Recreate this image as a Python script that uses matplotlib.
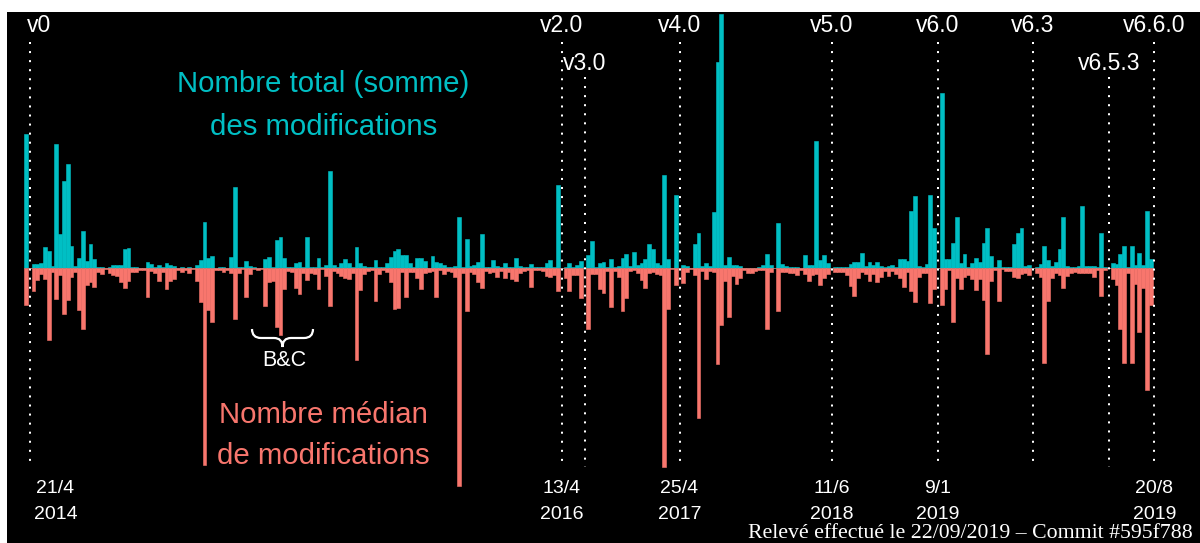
#!/usr/bin/env python3
"""
Modifications par groupe de commits, entre v0 et v6.6.0.
Barres vers le haut : nombre total, vers le bas : nombre médian.
"""

import numpy as np
import matplotlib.pyplot as plt
from matplotlib.patches import Rectangle, PathPatch
from matplotlib.path import Path

W, H = 1200, 543
TEAL = '#00BFC4'
SALMON = '#F8766D'

# Hauteurs (unités arbitraires), une barre par groupe
total = [
    134, 0, 4, 4, 5, 21, 17, 2, 124, 34, 87, 104, 22, 2, 10, 37, 7, 24, 9, 1,
    1, 0, 1, 3, 3, 3, 19, 20, 1, 1, 0, 0, 6, 4, 1, 3, 1, 5, 3, 2,
    0, 1, 0, 1, 0, 3, 8, 46, 10, 12, 0, 1, 1, 0, 11, 81, 1, 1, 7, 2,
    1, 0, 0, 9, 11, 1, 28, 31, 10, 1, 1, 5, 6, 1, 31, 1, 1, 10, 1, 3,
    97, 3, 1, 5, 9, 5, 1, 21, 5, 2, 1, 1, 8, 1, 1, 5, 11, 17, 19, 13,
    13, 5, 1, 10, 10, 7, 0, 12, 6, 5, 3, 1, 1, 2, 51, 1, 29, 2, 3, 6,
    34, 1, 1, 8, 2, 1, 5, 1, 1, 10, 2, 1, 1, 4, 1, 1, 1, 5, 8, 1,
    83, 0, 1, 5, 1, 3, 7, 0, 13, 27, 1, 5, 6, 1, 9, 1, 2, 10, 14, 2,
    16, 3, 5, 9, 24, 19, 5, 3, 93, 9, 0, 73, 0, 3, 2, 0, 24, 35, 2, 5,
    2, 56, 206, 254, 3, 11, 3, 3, 2, 0, 0, 0, 0, 1, 3, 14, 3, 0, 45, 4,
    2, 1, 1, 1, 0, 13, 3, 3, 127, 8, 13, 5, 0, 1, 1, 1, 1, 4, 6, 6,
    15, 2, 6, 3, 6, 2, 1, 2, 3, 1, 9, 9, 7, 57, 72, 2, 1, 4, 73, 40,
    0, 175, 9, 9, 25, 51, 5, 14, 1, 5, 10, 6, 25, 40, 12, 1, 8, 1, 1, 1,
    24, 35, 40, 2, 3, 0, 1, 4, 22, 8, 2, 6, 19, 51, 2, 1, 1, 2, 62, 2,
    2, 2, 1, 35, 1, 0, 5, 4, 14, 22, 1, 22, 3, 15, 3, 57, 9,
]
median = [
    37, 0, 23, 12, 6, 11, 72, 4, 31, 7, 46, 32, 9, 4, 42, 61, 17, 14, 19, 4,
    6, 1, 5, 7, 8, 14, 20, 13, 4, 4, 2, 2, 29, 3, 5, 13, 4, 21, 13, 11,
    2, 4, 2, 5, 1, 13, 34, 197, 42, 54, 2, 2, 4, 2, 5, 51, 5, 1, 29, 6,
    1, 2, 1, 38, 14, 13, 59, 67, 21, 3, 4, 20, 26, 5, 12, 5, 6, 21, 1, 8,
    38, 3, 5, 8, 10, 11, 5, 92, 22, 6, 3, 2, 33, 6, 2, 4, 14, 41, 40, 4,
    29, 4, 4, 10, 21, 5, 4, 3, 29, 2, 6, 3, 4, 9, 218, 5, 43, 4, 6, 14,
    20, 3, 5, 4, 9, 3, 10, 4, 11, 13, 5, 3, 2, 19, 2, 2, 3, 8, 9, 7,
    23, 0, 10, 23, 7, 7, 30, 0, 61, 6, 6, 21, 25, 3, 39, 3, 9, 43, 30, 3,
    2, 5, 12, 20, 5, 4, 6, 7, 199, 41, 1, 17, 0, 15, 4, 1, 7, 150, 3, 11,
    3, 4, 96, 57, 13, 49, 8, 16, 10, 2, 5, 5, 3, 2, 2, 61, 4, 0, 43, 4,
    4, 5, 5, 7, 2, 6, 13, 7, 6, 17, 10, 6, 0, 4, 4, 4, 7, 18, 28, 10,
    4, 6, 13, 6, 14, 9, 3, 8, 3, 6, 10, 19, 4, 23, 34, 9, 5, 5, 35, 21,
    0, 37, 21, 2, 54, 10, 21, 9, 7, 11, 22, 11, 32, 86, 13, 2, 33, 1, 3, 3,
    9, 10, 6, 5, 7, 0, 5, 9, 95, 33, 10, 5, 7, 20, 8, 5, 4, 5, 5, 5,
    5, 9, 2, 28, 2, 0, 11, 17, 61, 95, 5, 95, 16, 64, 20, 122, 37,
]

versions = ['v0', 'v2.0', 'v3.0', 'v4.0', 'v5.0', 'v6.0', 'v6.3', 'v6.5.3', 'v6.6.0']
version_pos = [2, 142, 148, 173, 213, 241, 266, 286, 298]
version_row = [1, 1, 2, 1, 1, 1, 1, 2, 1]
version_day = ['21/4', '13/4', '', '25/4', '11/6', '9/1', '', '', '20/8']
version_year = ['2014', '2016', '', '2017', '2018', '2019', '', '', '2019']

# mise en page (pixels)
X0, STEP = 25.9, 3.8      # centre de la 1re barre, largeur d'une barre
BASE = 267.7              # ligne de base


def fy(y):
    """pixel vertical -> fraction de figure"""
    return 1 - y / H


def fx(x):
    return x / W


def main():
    plt.rcParams['font.family'] = ['Liberation Sans', 'DejaVu Sans']
    fig = plt.figure(figsize=(W / 100, H / 100), dpi=100, facecolor='white')
    fig.patches.append(Rectangle((fx(7), 0), 1 - fx(7), fy(12),
                                 transform=fig.transFigure, facecolor='black',
                                 zorder=-1))
    ax = fig.add_axes([0, 0, 1, 1])
    ax.set_zorder(1)
    ax.set_facecolor('none')
    ax.axis('off')

    x = np.arange(1, len(total) + 1)
    ax.bar(x, total, width=1.0, color=TEAL, edgecolor=TEAL, linewidth=0.4)
    ax.bar(x, -np.array(median), width=1.0, color=SALMON, edgecolor=SALMON,
           linewidth=0.4)
    ax.set_xlim(1 - X0 / STEP, 1 + (W - X0) / STEP)
    ax.set_ylim(-(H - BASE), BASE)

    # versions
    tr = ax.get_xaxis_transform()
    for i, (name, pos, row) in enumerate(zip(versions, version_pos, version_row)):
        top = 42 if row == 1 else 77
        ax.plot([pos, pos], [fy(top), fy(467)], transform=tr, color='white',
                lw=1.45, linestyle=(0, (1, 3.5)), dash_capstyle='butt')
        first = i == 0
        lx = pos - 0.6 if first else pos
        ax.text(lx, fy(31.5 if row == 1 else 69.5), name, transform=tr,
                ha='left' if first else 'center', va='baseline',
                color='white', fontsize=16.5)
        if version_day[i]:
            dx = pos + 6.8 if first else pos
            ax.text(dx, fy(493), version_day[i], transform=tr, ha='center',
                    va='baseline', color='white', fontsize=14)
            ax.text(dx, fy(519), version_year[i], transform=tr, ha='center',
                    va='baseline', color='white', fontsize=14)

    # légendes dans le graphique
    fig.text(fx(323.5), fy(92), 'Nombre total (somme)', color=TEAL,
             fontsize=21.2, ha='center', va='baseline', zorder=3)
    fig.text(fx(323.5), fy(135), 'des modifications', color=TEAL,
             fontsize=21.2, ha='center', va='baseline', zorder=3)
    fig.text(fx(323.5), fy(423), 'Nombre médian', color=SALMON,
             fontsize=21.2, ha='center', va='baseline', zorder=3)
    fig.text(fx(323.5), fy(464), 'de modifications', color=SALMON,
             fontsize=21.2, ha='center', va='baseline', zorder=3)

    # accolade B&C
    pts = [(252, 329), (252, 338), (261, 338), (274, 338), (282.5, 338),
           (282.5, 347), (282.5, 338), (291, 338), (304, 338), (313, 338),
           (313, 329)]
    codes = [Path.MOVETO, Path.CURVE3, Path.CURVE3, Path.LINETO, Path.CURVE3,
             Path.CURVE3, Path.CURVE3, Path.CURVE3, Path.LINETO, Path.CURVE3,
             Path.CURVE3]
    brace = Path([(fx(a), fy(b)) for a, b in pts], codes)
    fig.patches.append(PathPatch(brace, transform=fig.transFigure,
                                 facecolor='none', edgecolor='white', lw=1.6,
                                 zorder=3))
    fig.text(fx(284), fy(366), 'B&C', color='white', fontsize=15.5,
             ha='center', va='baseline', zorder=3)

    fig.text(fx(1193), fy(538.5),
             'Relevé effectué le 22/09/2019 – Commit #595f788',
             color='white', fontsize=15.7, ha='right', va='baseline',
             family=['Liberation Serif', 'DejaVu Serif'], zorder=3)

    fig.savefig('out.png', dpi=100, facecolor='white')


if __name__ == '__main__':
    main()
